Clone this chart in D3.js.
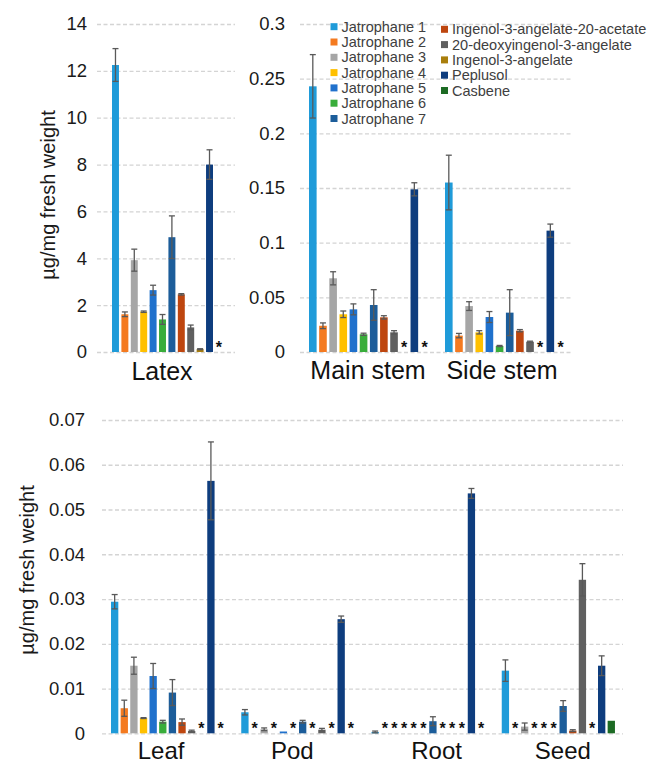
<!DOCTYPE html>
<html><head><meta charset="utf-8">
<script src="https://cdn.jsdelivr.net/npm/d3@7/dist/d3.min.js"></script>
<style>body{margin:0;background:#fff} svg{display:block} text{font-family:"Liberation Sans",Arial,sans-serif}</style>
</head><body><svg id="c" width="652" height="764"></svg>
<script>
// ---------- DATA ----------
const groups = ["Latex", "Main stem", "Side stem", "Leaf", "Pod", "Root", "Seed"];
const topLeftGroups = ["Latex"];
const topRightGroups = ["Main stem", "Side stem"];
const bottomGroups = ["Leaf", "Pod", "Root", "Seed"];

const seriesNames = ["Jatrophane 1", "Jatrophane 2", "Jatrophane 3", "Jatrophane 4", "Jatrophane 5",
  "Jatrophane 6", "Jatrophane 7", "Ingenol-3-angelate-20-acetate", "20-deoxyingenol-3-angelate",
  "Ingenol-3-angelate", "Peplusol", "Casbene"];
const seriesColors = ["#1f9bd9", "#f47a20", "#a6a6a6", "#ffc000", "#2071cc", "#39ad3b", "#1c5d9a",
  "#be460f", "#606060", "#a97e0c", "#0e3d7e", "#1d6b24"];

// values per series, in the order of `groups`; null = not detected (*)
const jatrophane1 = [12.25, 0.243, 0.155, 0.0294, 0.0047, 0.0003, 0.0140];
const jatrophane2 = [1.61, 0.024, 0.015, 0.0056, null, null, null];
const jatrophane3 = [3.92, 0.0674, 0.042, 0.0151, 0.0009, null, 0.0015];
const jatrophane4 = [1.72, 0.0345, 0.018, 0.0034, null, null, null];
const jatrophane5 = [2.64, 0.039, 0.032, 0.0128, 0.0004, null, null];
const jatrophane6 = [1.39, 0.0162, 0.0055, 0.0026, null, null, null];
const jatrophane7 = [4.9, 0.043, 0.036, 0.0091, 0.0026, 0.0027, 0.0061];
const ingenolAngelateAcetate = [2.46, 0.0317, 0.0195, 0.0025, null, null, 0.0006];
const deoxyingenolAngelate = [1.05, 0.018, 0.0094, 0.0005, 0.0008, null, 0.0343];
const ingenolAngelate = [0.12, null, null, null, null, null, null];
const peplusol = [8.0, 0.1488, 0.111, 0.0564, 0.0255, 0.0536, 0.0151];
const casbene = [null, null, null, null, null, null, 0.0028];

// standard errors, same layout
const jatrophane1Err = [0.7, 0.029, 0.025, 0.0016, 0.0006, 0.0002, 0.0024];
const jatrophane2Err = [0.1, 0.0026, 0.002, 0.0018, 0, 0, 0];
const jatrophane3Err = [0.47, 0.006, 0.004, 0.0019, 0.0003, 0, 0.0008];
const jatrophane4Err = [0.03, 0.003, 0.0015, 0.0001, 0, 0, 0];
const jatrophane5Err = [0.21, 0.005, 0.005, 0.0028, 0, 0, 0];
const jatrophane6Err = [0.21, 0.001, 0.0005, 0.0003, 0, 0, 0];
const jatrophane7Err = [0.91, 0.014, 0.021, 0.0029, 0.0003, 0.001, 0.0012];
const ingenolAngelateAcetateErr = [0.03, 0.0015, 0.001, 0.0007, 0, 0, 0.0002];
const deoxyingenolAngelateErr = [0.1, 0.0015, 0.0005, 0.0002, 0.0003, 0, 0.0036];
const ingenolAngelateErr = [0.02, 0, 0, 0, 0, 0, 0];
const peplusolErr = [0.63, 0.006, 0.006, 0.0087, 0.0007, 0.0011, 0.0022];
const casbeneErr = [0, 0, 0, 0, 0, 0, 0];

const topLeftTicks = [0, 2, 4, 6, 8, 10, 12, 14];
const topLeftTickLabels = ["0", "2", "4", "6", "8", "10", "12", "14"];
const topRightTicks = [0, 0.05, 0.1, 0.15, 0.2, 0.25, 0.3];
const topRightTickLabels = ["0", "0.05", "0.1", "0.15", "0.2", "0.25", "0.3"];
const bottomTicks = [0, 0.01, 0.02, 0.03, 0.04, 0.05, 0.06, 0.07];
const bottomTickLabels = ["0", "0.01", "0.02", "0.03", "0.04", "0.05", "0.06", "0.07"];
const yAxisTitle = "µg/mg fresh weight";

const seriesValues = [jatrophane1, jatrophane2, jatrophane3, jatrophane4, jatrophane5, jatrophane6,
  jatrophane7, ingenolAngelateAcetate, deoxyingenolAngelate, ingenolAngelate, peplusol, casbene];
const seriesErrors = [jatrophane1Err, jatrophane2Err, jatrophane3Err, jatrophane4Err, jatrophane5Err,
  jatrophane6Err, jatrophane7Err, ingenolAngelateAcetateErr, deoxyingenolAngelateErr,
  ingenolAngelateErr, peplusolErr, casbeneErr];

// ---------- DRAW ----------
const svg = d3.select("#c");
const color = d3.scaleOrdinal().domain(seriesNames).range(seriesColors);

function panel(o) {
  const g = svg.append("g");
  const y = d3.scaleLinear().domain(o.yDomain).range(o.yRange);
  const x0 = d3.scaleBand().domain(o.groups).range(o.xRange);
  const x1 = d3.scaleBand().domain(seriesNames).range(o.inner).paddingInner(o.pad);

  const ax = g.append("g").attr("transform", `translate(${o.xRange[0]},0)`)
    .call(d3.axisLeft(y).tickValues(o.ticks)
      .tickFormat((d, i) => o.tickLabels[i])
      .tickSizeInner(-(o.xRange[1] - o.xRange[0])).tickSizeOuter(0).tickPadding(o.tickPad));
  ax.select(".domain").remove();
  ax.selectAll(".tick line").attr("stroke", "#d4d4d4").attr("stroke-width", 1.3).attr("stroke-dasharray", "4,2.5");
  ax.selectAll(".tick text").attr("font-size", 18.5).attr("fill", "#1a1a1a")
    .attr("font-family", '"Liberation Sans",Arial,sans-serif');

  o.groups.forEach(grp => {
    const gi = groups.indexOf(grp);
    const gx = x0(grp);
    seriesNames.forEach((s, si) => {
      const v = seriesValues[si][gi];
      const e = seriesErrors[si][gi];
      const bx = gx + x1(s);
      const bw = x1.bandwidth();
      if (v === null) {
        g.append("text").attr("x", bx + bw / 2).attr("y", y(0) + 0.5)
          .attr("text-anchor", "middle").attr("font-size", 16).attr("font-weight", "bold")
          .attr("fill", "#111").text("*");
        return;
      }
      g.append("rect").attr("x", bx).attr("width", bw)
        .attr("y", y(v)).attr("height", Math.max(0.6, y(0) - y(v))).attr("fill", color(s));
      if (e > 0) {
        const cx = bx + bw / 2, hw = 3;
        const eg = g.append("g").attr("stroke", "#595959").attr("stroke-width", 1.3).attr("fill", "none");
        eg.append("line").attr("x1", cx).attr("x2", cx).attr("y1", y(v + e)).attr("y2", y(Math.max(0, v - e)));
        eg.append("line").attr("x1", cx - hw).attr("x2", cx + hw).attr("y1", y(v + e)).attr("y2", y(v + e));
        eg.append("line").attr("x1", cx - hw).attr("x2", cx + hw).attr("y1", y(Math.max(0, v - e))).attr("y2", y(Math.max(0, v - e)));
      }
    });
    g.append("text").attr("x", gx + x0.bandwidth() / 2 + (o.labelShift[grp] || 0)).attr("y", o.labelY)
      .attr("text-anchor", "middle").attr("font-size", o.labelSize).attr("fill", "#111").text(grp);
  });
  if (o.title) {
    g.append("text").attr("transform", `translate(${o.title[0]},${o.title[1]}) rotate(-90)`)
      .attr("text-anchor", "middle").attr("dominant-baseline", "central")
      .attr("font-size", 20).attr("fill", "#1a1a1a").text(yAxisTitle);
  }
}

panel({ groups: topLeftGroups, xRange: [97, 235], inner: [15, 125.4], pad: 0.26,
  yDomain: [0, 14], yRange: [352, 24], ticks: topLeftTicks, tickLabels: topLeftTickLabels, tickPad: 10,
  labelY: 380, labelSize: 25, labelShift: { "Latex": -4 }, title: [48, 195] });

panel({ groups: topRightGroups, xRange: [300, 572], inner: [9, 128.3], pad: 0.25,
  yDomain: [0, 0.3], yRange: [352, 24], ticks: topRightTicks, tickLabels: topRightTickLabels, tickPad: 15,
  labelY: 379, labelSize: 25, labelShift: { "Main stem": 0, "Side stem": -2 } });

panel({ groups: bottomGroups, xRange: [102, 623], inner: [9, 122.2], pad: 0.24,
  yDomain: [0, 0.07], yRange: [733.3, 420], ticks: bottomTicks, tickLabels: bottomTickLabels, tickPad: 17,
  labelY: 758.8, labelSize: 24, labelShift: { "Leaf": -6, "Pod": -5, "Root": 9, "Seed": 5 }, title: [27, 570] });

// legend
const leg = svg.append("g").attr("font-size", 14.5).attr("fill", "#404040");
seriesNames.forEach((s, i) => {
  const col = i < 7 ? 0 : 1;
  const row = i < 7 ? i : i - 7;
  const lx = col === 0 ? 330.5 : 441;
  const ly = (col === 0 ? 26.7 : 29.3) + row * 15.3;
  leg.append("rect").attr("x", lx).attr("y", ly - 3.5).attr("width", 7).attr("height", 7).attr("fill", color(s));
  leg.append("text").attr("x", lx + 11).attr("y", ly).attr("dominant-baseline", "central").text(s);
});
</script></body></html>
